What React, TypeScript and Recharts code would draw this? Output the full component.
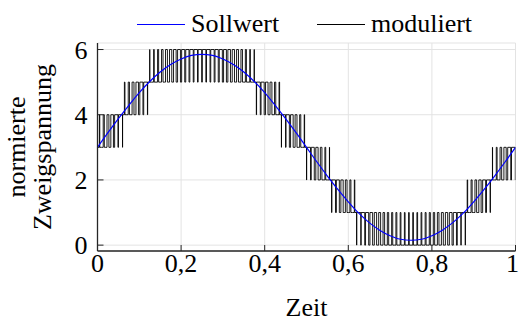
import { LineChart, Line, XAxis, YAxis, CartesianGrid, Legend } from "recharts";

const zeitSoll = [
  0, 0.025, 0.05, 0.075, 0.1, 0.125, 0.15, 0.175, 0.2, 0.225, 0.25, 0.275, 0.3,
  0.325, 0.35, 0.375, 0.4, 0.425, 0.45, 0.475, 0.5, 0.525, 0.55, 0.575, 0.6,
  0.625, 0.65, 0.675, 0.7, 0.725, 0.75, 0.775, 0.8, 0.825, 0.85, 0.875, 0.9,
  0.925, 0.95, 0.975, 1,
];
const sollwert = [
  3.0, 3.45, 3.88, 4.29, 4.68, 5.02, 5.31, 5.54, 5.71, 5.82, 5.85, 5.82, 5.71,
  5.54, 5.31, 5.02, 4.68, 4.29, 3.88, 3.45, 3.0, 2.55, 2.12, 1.71, 1.33, 0.98,
  0.69, 0.46, 0.29, 0.18, 0.15, 0.18, 0.29, 0.46, 0.69, 0.98, 1.33, 1.71, 2.12,
  2.55, 3.0,
];

// Abtastwert je Taktperiode (100 Perioden): Stufe = ganzzahliger Teil, Tastgrad = Rest
const abtastwert = [
  3.09, 3.27, 3.45, 3.62, 3.8, 3.97, 4.13, 4.29, 4.45, 4.6, 4.75, 4.89, 5.02,
  5.14, 5.25, 5.36, 5.45, 5.54, 5.62, 5.68, 5.74, 5.78, 5.82, 5.84, 5.85,
  5.85, 5.84, 5.82, 5.78, 5.74, 5.68, 5.62, 5.54, 5.45, 5.36, 5.25, 5.14, 5.02,
  4.89, 4.75, 4.6, 4.45, 4.29, 4.13, 3.97, 3.8, 3.62, 3.45, 3.27, 3.09,
  2.91, 2.73, 2.55, 2.38, 2.2, 2.03, 1.87, 1.71, 1.55, 1.4, 1.25, 1.11, 0.98,
  0.86, 0.75, 0.64, 0.55, 0.46, 0.38, 0.32, 0.26, 0.22, 0.18, 0.16, 0.15,
  0.15, 0.16, 0.18, 0.22, 0.26, 0.32, 0.38, 0.46, 0.55, 0.64, 0.75, 0.86, 0.98,
  1.11, 1.25, 1.4, 1.55, 1.71, 1.87, 2.03, 2.2, 2.38, 2.55, 2.73, 2.91,
];

const xTicks = [0, 0.2, 0.4, 0.6, 0.8, 1];
const yTicks = [0, 2, 4, 6];

const sollData = zeitSoll.map((t, i) => ({ t, y: sollwert[i] }));

const modData: { t: number; y: number }[] = [];
{
  const n = abtastwert.length;
  let prev = Math.floor(abtastwert[0]);
  abtastwert.forEach((v, k) => {
    const lvl = Math.floor(v);
    const d = v - lvl;
    const t0 = k / n;
    const a = t0 + (1 - d) / 2 / n;
    const b = t0 + (1 + d) / 2 / n;
    modData.push({ t: t0, y: prev }, { t: t0, y: lvl });
    modData.push({ t: a, y: lvl }, { t: a, y: lvl + 1 });
    modData.push({ t: b, y: lvl + 1 }, { t: b, y: lvl });
    prev = lvl;
  });
  modData.push({ t: 1, y: prev });
}

const FONT = "Liberation Serif";
const FS = 26;
const AXIS = "#262626";
const fmt = (v: number) => String(v).replace(".", ",");

function LegendBox() {
  const item = (left: number, color: string, label: string) => (
    <div
      style={{
        position: "absolute",
        left,
        top: 10,
        height: 28,
        display: "flex",
        alignItems: "center",
        fontFamily: FONT,
        fontSize: FS,
        color: "#000",
        whiteSpace: "nowrap",
      }}
    >
      <svg width={54} height={28} style={{ display: "block" }}>
        <line x1={0} x2={48} y1={14.5} y2={14.5} stroke={color} strokeWidth={1.2} />
      </svg>
      {label}
    </div>
  );
  return (
    <div style={{ position: "relative", width: 519, height: 43 }}>
      {item(137, "#0000ff", "Sollwert")}
      {item(317, "#000000", "moduliert")}
    </div>
  );
}

function YLabel() {
  return (
    <g fontFamily={FONT} fontSize={FS} fill="#000">
      <text x={25} y={147} textAnchor="middle" transform="rotate(-90 25 147)">
        normierte
      </text>
      <text x={51} y={147} textAnchor="middle" transform="rotate(-90 51 147)">
        Zweigspannung
      </text>
    </g>
  );
}

export default function App() {
  const tick = { fontFamily: FONT, fontSize: FS, fill: "#000" };
  const axisLine = { stroke: AXIS, strokeWidth: 1.3 };
  return (
    <div style={{ position: "absolute", left: 0, top: 0, background: "#fff" }}>
      <LineChart width={519} height={322} margin={{ top: 0, right: 3.5, left: 0, bottom: 0 }}>
        <CartesianGrid stroke="#e3e3e3" strokeWidth={1} />
        <Legend verticalAlign="top" align="left" height={43} content={() => <LegendBox />} />
        <XAxis
          dataKey="t"
          type="number"
          domain={[0, 1]}
          ticks={xTicks}
          tickFormatter={fmt}
          allowDataOverflow
          height={71}
          tick={tick}
          tickSize={-6}
          tickMargin={9}
          axisLine={axisLine}
          tickLine={{ stroke: AXIS }}
          label={{
            value: "Zeit",
            position: "insideBottom",
            offset: 6,
            fontSize: FS,
            fill: "#000",
            fontFamily: FONT,
          }}
        />
        <XAxis
          xAxisId="top"
          orientation="top"
          type="number"
          domain={[0, 1]}
          ticks={xTicks}
          allowDataOverflow
          height={0}
          tick={false}
          tickSize={-6}
          axisLine={axisLine}
          tickLine={{ stroke: AXIS }}
        />
        <YAxis
          type="number"
          domain={[-0.18, 6.2]}
          ticks={yTicks}
          allowDataOverflow
          width={97.5}
          tick={tick}
          tickSize={-6}
          tickMargin={16}
          axisLine={axisLine}
          tickLine={{ stroke: AXIS }}
          label={{ content: () => <YLabel /> }}
        />
        <YAxis
          yAxisId="r"
          orientation="right"
          type="number"
          domain={[-0.18, 6.2]}
          ticks={yTicks}
          allowDataOverflow
          width={0}
          tick={false}
          tickSize={-6}
          axisLine={axisLine}
          tickLine={{ stroke: AXIS }}
        />
        <Line
          data={modData}
          dataKey="y"
          type="linear"
          stroke="#000"
          strokeWidth={0.9}
          dot={false}
          isAnimationActive={false}
        />
        <Line
          data={sollData}
          dataKey="y"
          type="monotone"
          stroke="#0000ff"
          strokeWidth={1.2}
          dot={false}
          isAnimationActive={false}
        />
      </LineChart>
    </div>
  );
}
